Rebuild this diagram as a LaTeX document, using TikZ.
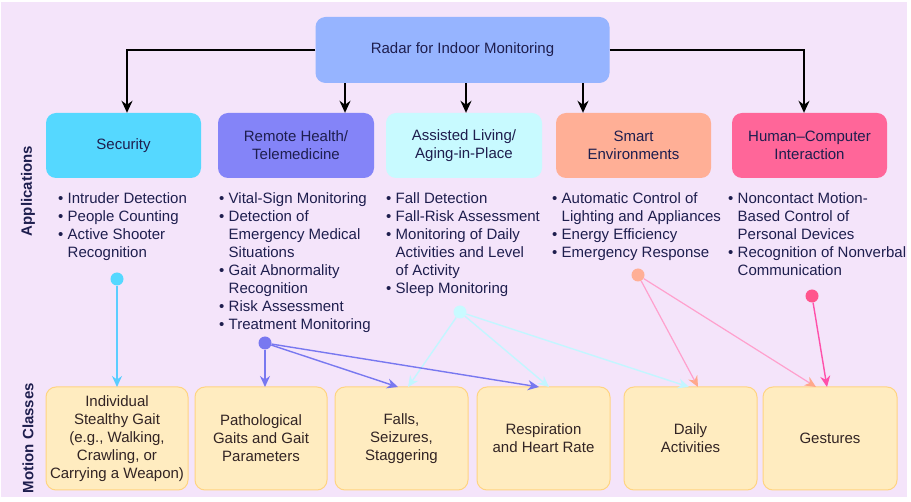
\documentclass[tikz,border=0pt]{standalone}
\usepackage{fontspec}
\setmainfont{Liberation Sans}
\usetikzlibrary{arrows.meta}

\definecolor{pagebg}{RGB}{244,228,250}
\definecolor{navy}{RGB}{30,30,78}
\definecolor{browntext}{RGB}{50,36,36}
\definecolor{radarfill}{RGB}{150,180,255}
\definecolor{secfill}{RGB}{85,216,255}
\definecolor{healthfill}{RGB}{132,132,248}
\definecolor{livingfill}{RGB}{200,250,255}
\definecolor{smartfill}{RGB}{255,175,150}
\definecolor{hcifill}{RGB}{255,102,153}
\definecolor{classfill}{RGB}{255,236,192}
\definecolor{classedge}{RGB}{255,212,130}
\definecolor{secline}{RGB}{90,205,255}
\definecolor{healthline}{RGB}{120,120,240}
\definecolor{livingline}{RGB}{195,246,255}
\definecolor{smartline}{RGB}{255,160,205}
\definecolor{smarttip}{RGB}{255,168,140}
\definecolor{hciline}{RGB}{255,80,170}
\definecolor{hcidot}{RGB}{255,85,140}

\newcommand{\bul}{\makebox[9.5pt][l]{\textbullet}}
\newcommand{\ind}{\hspace*{9.5pt}}

\begin{document}
\begin{tikzpicture}[x=1pt,y=-1pt,
  txt/.style={font=\fontsize{15}{18}\selectfont},
  rootbox/.style={txt, rounded corners=10pt, fill=radarfill, text=navy,
    align=center, inner sep=0pt, minimum height=66pt, minimum width=294pt},
  appbox/.style={txt, rounded corners=10pt, text=navy, align=center,
    inner sep=0pt, minimum height=65pt},
  classbox/.style={txt, rounded corners=10pt, fill=classfill, draw=classedge,
    line width=1pt, text=browntext, align=center, inner sep=0pt,
    minimum height=103pt},
  itemlist/.style={txt, text=navy, align=left, anchor=north west, inner sep=0pt},
  rowlabel/.style={font=\fontsize{15}{18}\selectfont\bfseries, text=navy, rotate=90},
  hub/.style={circle, inner sep=0pt, minimum size=13pt},
  tree/.style={line width=1.5pt, black, -{Stealth[length=12pt,width=11pt]}},
  link/.style={line width=1.4pt, -{Stealth[length=11pt,width=10pt]}}
]
\useasboundingbox (0,0) rectangle (911,502);
\fill[white] (0,0) rectangle (911,502);
\fill[pagebg] (1,2) rectangle (907,497);

% root
\node[rootbox] (root) at (462.5,50) {Radar for Indoor Monitoring};

% application areas
\node[appbox, fill=secfill, minimum width=155pt] (sec) at (123.5,145.5) {Security};
\node[appbox, fill=healthfill, minimum width=156pt] (health) at (296,145.5) {Remote Health/\\Telemedicine};
\node[appbox, fill=livingfill, minimum width=156pt] (living) at (464,145.5) {Assisted Living/\\Aging-in-Place};
\node[appbox, fill=smartfill, minimum width=155pt] (smart) at (633.5,145.5) {Smart\\Environments};
\node[appbox, fill=hcifill, minimum width=155pt] (hci) at (809.5,145.5) {Human--Computer\\Interaction};

% tree connectors
\coordinate (xh) at (345,0);
\coordinate (xl) at (466,0);
\coordinate (xs) at (583,0);
\draw[tree] (root.west) -| (sec.north -| 127,0);
\draw[tree] (root.east) -| (hci.north -| 804,0);
\draw[tree] (root.south -| xh) -- (health.north -| xh);
\draw[tree] (root.south -| xl) -- (living.north -| xl);
\draw[tree] (root.south -| xs) -- (smart.north -| xs);

% application lists
\node[itemlist] (secl) at (58,191) {\rule{0pt}{12pt}\bul Intruder Detection\\
  \bul People Counting\\ \bul Active Shooter\\ \ind Recognition};
\node[itemlist] (healthl) at (219,191) {\rule{0pt}{12pt}\bul Vital-Sign Monitoring\\
  \bul Detection of\\ \ind Emergency Medical\\ \ind Situations\\
  \bul Gait Abnormality\\ \ind Recognition\\ \bul Risk Assessment\\
  \bul Treatment Monitoring};
\node[itemlist] (livingl) at (386,191) {\rule{0pt}{12pt}\bul Fall Detection\\
  \bul Fall-Risk Assessment\\ \bul Monitoring of Daily\\
  \ind Activities and Level\\ \ind of Activity\\ \bul Sleep Monitoring};
\node[itemlist] (smartl) at (552,191) {\rule{0pt}{12pt}\bul Automatic Control of\\
  \ind Lighting and Appliances\\ \bul Energy Efficiency\\ \bul Emergency Response};
\node[itemlist] (hcil) at (728,191) {\rule{0pt}{12pt}\bul Noncontact Motion-\\
  \ind Based Control of\\ \ind Personal Devices\\ \bul Recognition of Nonverbal\\
  \ind Communication};

% row labels
\node[rowlabel] (applab) at (28,191) {Applications};
\node[rowlabel] (motlab) at (28,438) {Motion Classes};

% motion classes
\node[classbox, minimum width=142pt] (c1) at (117,438.5) {Individual\\Stealthy Gait\\(e.g., Walking,\\Crawling, or\\Carrying a Weapon)};
\node[classbox, minimum width=132pt] (c2) at (261,438.5) {Pathological\\Gaits and Gait\\Parameters};
\node[classbox, minimum width=133pt] (c3) at (401.5,438.5) {Falls,\\Seizures,\\Staggering};
\node[classbox, minimum width=133pt] (c4) at (543.5,438.5) {Respiration\\and Heart Rate};
\node[classbox, minimum width=133pt] (c5) at (690.5,438.5) {Daily\\Activities};
\node[classbox, minimum width=134pt] (c6) at (830,438.5) {Gestures};

% entry points on the class boxes
\coordinate (c1a) at (117,387);
\coordinate (c2a) at (265,387);
\coordinate (c3a) at (398,387);
\coordinate (c3b) at (408,387);
\coordinate (c4a) at (539,387);
\coordinate (c4b) at (549,387);
\coordinate (c5a) at (689,387);
\coordinate (c5b) at (698,387);
\coordinate (c6a) at (816,387);
\coordinate (c6b) at (827,387);

% hubs
\node[hub, fill=secfill] (hsec) at (117,279) {};
\node[hub, fill=healthline] (hhealth) at (265,343) {};
\node[hub, fill=livingfill] (hliving) at (460,312) {};
\node[hub, fill=smartfill] (hsmart) at (638,275) {};
\node[hub, fill=hcidot] (hhci) at (812,296) {};

% links from applications to motion classes
\draw[link, secline] (hsec) -- (c1a);
\draw[link, livingline] (hliving) -- (c3b);
\draw[link, livingline] (hliving) -- (c4b);
\draw[link, livingline] (hliving) -- (c5a);
\draw[link, healthline] (hhealth) -- (c2a);
\draw[link, healthline] (hhealth) -- (c3a);
\draw[link, healthline] (hhealth) -- (c4a);
\draw[line width=1.2pt, smartline, -{Stealth[length=11pt,width=10pt,color=smarttip]}] (hsmart) -- (c5b);
\draw[line width=1.2pt, smartline, -{Stealth[length=11pt,width=10pt,color=smarttip]}] (hsmart) -- (c6a);
\draw[link, hciline] (hhci) -- (c6b);
\end{tikzpicture}
\end{document}
